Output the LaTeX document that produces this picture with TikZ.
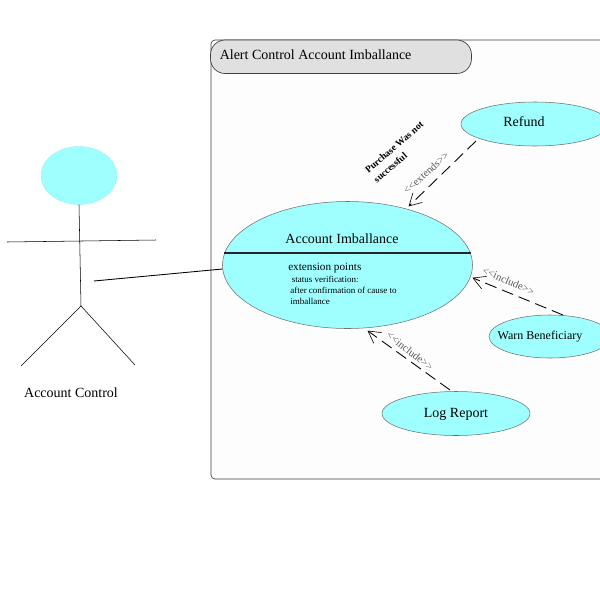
\documentclass[tikz,border=0pt]{standalone}
\usepackage{fontspec}
\setmainfont{Liberation Serif}
\usetikzlibrary{arrows.meta,shapes.geometric}
\definecolor{usecase}{HTML}{9FFFFF}
\definecolor{framefill}{HTML}{FDFDFD}
\definecolor{titlefill}{HTML}{E0E0E0}
\definecolor{edgegray}{HTML}{707070}
\newcommand{\fsz}[1]{\fontsize{#1}{#1}\selectfont}
\pgfdeclarearrow{
  name=OpenVee,
  setup code={\pgfarrowssettipend{0pt}\pgfarrowssetlineend{-0.5pt}\pgfarrowssetbackend{-9pt}\pgfarrowssetvisualbackend{-0.5pt}\pgfarrowshullpoint{0pt}{0pt}\pgfarrowshullpoint{-9pt}{5pt}\pgfarrowshullpoint{-9pt}{-5pt}},
  drawing code={\pgfsetlinewidth{0.45pt}\pgfsetdash{}{0pt}\pgfpathmoveto{\pgfqpoint{-9pt}{5pt}}\pgfpathlineto{\pgfqpoint{0pt}{0pt}}\pgfpathlineto{\pgfqpoint{-9pt}{-5pt}}\pgfusepathqstroke}
}
\tikzset{
  usecasebox/.style={ellipse,draw=edgegray,line width=0.4pt,fill=usecase,inner sep=0pt,outer sep=0pt},
  actorline/.style={draw=black,line width=0.4pt},
  deparrow/.style={draw=black,line width=0.65pt,dash pattern=on 9pt off 4.5pt,-{OpenVee}},
  stereolabel/.style={text=black!65,inner sep=0pt,font=\fsz{8}},
  plain/.style={inner sep=0pt,align=left},
}
\begin{document}
\begin{tikzpicture}[x=0.75pt,y=-0.75pt]
\useasboundingbox (0,0) rectangle (600,600);
\clip (0,0) rectangle (600,600);
\fill[white] (0,0) rectangle (600,600);
% frame
\node[draw=black!75,fill=framefill,rounded corners=3pt,line width=0.5pt,minimum width=500*0.75pt,minimum height=439*0.75pt,anchor=north west,inner sep=0pt,outer sep=0pt] (frame) at (211,40) {};
\node[draw=black!75,fill=titlefill,rounded corners=11pt,line width=0.5pt,minimum width=261*0.75pt,minimum height=33.5*0.75pt,anchor=north west,inner sep=0pt,outer sep=0pt] (title) at (210.5,40) {};
\node[plain,anchor=west,font=\fsz{10.5}] (titletext) at (219.5,54.5) {Alert Control Account Imballance};
% actor
\node[ellipse,fill=usecase,draw=usecase!90!gray,line width=0.3pt,minimum width=76*0.75pt,minimum height=58*0.75pt,inner sep=0pt] (head) at (79,175.5) {};
\coordinate (hip) at (81,306);
\coordinate (armL) at (7,242);
\coordinate (armR) at (156,240);
\coordinate (footL) at (21,366);
\coordinate (footR) at (135,365);
\draw[actorline] (head.south) -- (hip);
\draw[actorline] (armL) -- (armR);
\draw[actorline] (footL) -- (hip) -- (footR);
\node[plain,font=\fsz{10.5}] (actorname) at (71,392.5) {Account Control};
% use cases
\node[usecasebox,minimum width=250*0.75pt,minimum height=127*0.75pt] (main) at (347.5,265) {};
\coordinate (barL) at (224,253);
\coordinate (barR) at (471,253);
\draw[black!85,line width=1pt] (barL) -- (barR);
\node[plain,font=\fsz{10.5}] (maintext) at (342,238.5) {Account Imballance};
\node[plain,anchor=west,font=\fsz{8.4}] (ext) at (288,268) {extension points};
\node[plain,anchor=north west,font=\fsz{6.75},align=left] (extbody) at (290,275.5) {\,status verification:\\[1.5pt]after confirmation of cause to\\[1.5pt]imballance};
\node[usecasebox,minimum width=148*0.75pt,minimum height=44*0.75pt] (refund) at (535,124) {};
\node[plain,font=\fsz{10.5}] at (524,122) (refundtext) {Refund};
\node[usecasebox,minimum width=148*0.75pt,minimum height=44*0.75pt] (log) at (456,413.5) {};
\node[plain,font=\fsz{10.5}] at (456,414) (logtext) {Log Report};
\node[usecasebox,minimum width=122*0.75pt,minimum height=43*0.75pt] (warn) at (550,336.5) {};
\node[plain,font=\fsz{9}] at (540,337) (warntext) {Warn Beneficiary};
% connectors
\coordinate (actorhand) at (94,281);
\draw[draw=black,line width=0.65pt] (actorhand) -- (main.west |- 0,269);
\coordinate (refundout) at (476,141);
\coordinate (mainin1) at (409,206);
\draw[deparrow] (refundout) -- (mainin1);
\coordinate (warnout) at (563,315);
\coordinate (mainin2) at (473,278);
\draw[deparrow] (warnout) -- (mainin2);
\coordinate (logout) at (450,390);
\coordinate (mainin3) at (368,331);
\draw[deparrow] (logout) -- (mainin3);
% labels
\node[stereolabel,rotate=42] (lab1) at (426,173) {<{}<extends>{}>};
\node[stereolabel,rotate=-24] (lab2) at (508.5,281) {<{}<include>{}>};
\node[stereolabel,rotate=-38] (lab3) at (410,351) {<{}<include>{}>};
\node[inner sep=0pt,align=left,rotate=41,font=\fsz{7.2}\bfseries] (cond) at (398.5,152) {Purchase Was not\\[2.5pt]successful};
\end{tikzpicture}
\end{document}
